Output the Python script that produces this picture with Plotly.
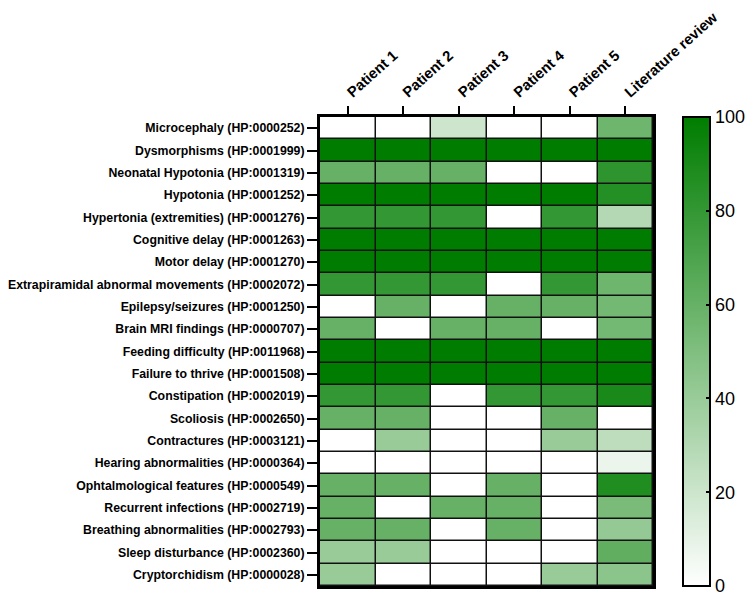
import plotly.graph_objects as go

# 表型（HPO）
phenotypes = [
    "Microcephaly (HP:0000252)",
    "Dysmorphisms (HP:0001999)",
    "Neonatal Hypotonia (HP:0001319)",
    "Hypotonia (HP:0001252)",
    "Hypertonia (extremities) (HP:0001276)",
    "Cognitive delay (HP:0001263)",
    "Motor delay (HP:0001270)",
    "Extrapiramidal abnormal movements (HP:0002072)",
    "Epilepsy/seizures (HP:0001250)",
    "Brain MRI findings (HP:0000707)",
    "Feeding difficulty (HP:0011968)",
    "Failure to thrive (HP:0001508)",
    "Constipation (HP:0002019)",
    "Scoliosis (HP:0002650)",
    "Contractures (HP:0003121)",
    "Hearing abnormalities (HP:0000364)",
    "Ophtalmological features (HP:0000549)",
    "Recurrent infections (HP:0002719)",
    "Breathing abnormalities (HP:0002793)",
    "Sleep disturbance (HP:0002360)",
    "Cryptorchidism (HP:0000028)",
]
columns = ["Patient 1", "Patient 2", "Patient 3", "Patient 4", "Patient 5", "Literature review"]

patient_1 = [0, 100, 60, 100, 80, 100, 100, 80, 0, 60, 100, 100, 80, 60, 0, 0, 60, 60, 60, 40, 40]
patient_2 = [0, 100, 60, 100, 80, 100, 100, 80, 60, 0, 100, 100, 80, 60, 40, 0, 60, 0, 60, 40, 0]
patient_3 = [20, 100, 60, 100, 80, 100, 100, 80, 0, 60, 100, 100, 0, 0, 0, 0, 0, 60, 0, 0, 0]
patient_4 = [0, 100, 0, 100, 0, 100, 100, 0, 60, 60, 100, 100, 80, 0, 0, 0, 60, 60, 60, 0, 0]
patient_5 = [0, 100, 0, 100, 80, 100, 100, 80, 60, 0, 100, 100, 80, 60, 40, 0, 0, 0, 0, 0, 40]
literature = [57, 100, 82, 86, 30, 100, 100, 57, 55, 55, 100, 100, 90, 0, 26, 8, 88, 52, 42, 62, 45]

colorbar_ticks = [0, 20, 40, 60, 80, 100]

z = [list(row) for row in zip(patient_1, patient_2, patient_3, patient_4, patient_5, literature)]

fig = go.Figure(
    go.Heatmap(
        z=z,
        x=columns,
        y=phenotypes,
        zmin=0,
        zmax=100,
        colorscale=[[0, "#ffffff"], [1, "rgb(0,125,0)"]],
        xgap=1.5,
        ygap=1.5,
        hoverongaps=False,
        colorbar={
            "x": 1.09,
            "xanchor": "left",
            "xpad": 0,
            "y": 0.5,
            "yanchor": "middle",
            "ypad": 0,
            "len": 1.0,
            "thickness": 27,
            "outlinewidth": 2,
            "outlinecolor": "black",
            "tickvals": colorbar_ticks,
            "ticks": "inside",
            "ticklen": 5,
            "tickwidth": 2,
            "tickcolor": "black",
            "ticklabeloverflow": "allow",
            "tickfont": {"family": "Arial, Liberation Sans", "size": 18, "color": "black"},
        },
    )
)

# 页面自带8px边距，整体尺寸相应缩小
fig.update_layout(
    width=746,
    height=588,
    margin={"l": 312, "r": 101, "t": 109, "b": 10, "autoexpand": False},
    paper_bgcolor="white",
    plot_bgcolor="#111111",
    font={"family": "Arial, Liberation Sans", "color": "black"},
    xaxis={
        "side": "top",
        "tickangle": -42,
        "ticks": "outside",
        "ticklen": 8,
        "tickwidth": 2,
        "tickcolor": "black",
        "tickfont": {"size": 14.8, "weight": "bold"},
        "showline": True,
        "linewidth": 3,
        "linecolor": "black",
        "mirror": True,
        "showgrid": False,
        "zeroline": False,
        "automargin": False,
    },
    yaxis={
        "autorange": "reversed",
        "ticks": "outside",
        "ticklen": 10,
        "tickwidth": 2,
        "tickcolor": "black",
        "tickfont": {"size": 12.3, "weight": "bold"},
        "showline": True,
        "linewidth": 3,
        "linecolor": "black",
        "mirror": True,
        "showgrid": False,
        "zeroline": False,
        "automargin": False,
    },
)

fig.write_html("out.html")
